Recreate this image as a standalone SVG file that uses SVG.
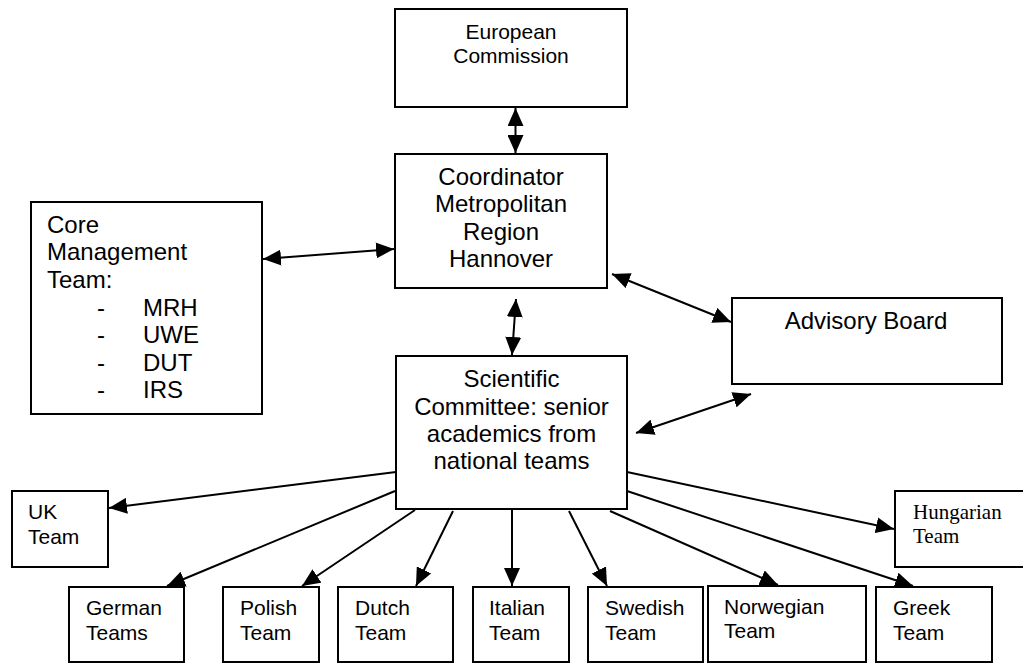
<svg xmlns="http://www.w3.org/2000/svg" width="1023" height="664" viewBox="0 0 1023 664">
<style>
.box{fill:#fff;stroke:#000;stroke-width:2}
.t{font-family:"Liberation Sans",Arial,sans-serif;fill:#000}
.c{text-anchor:middle}
.big{font-size:24px}
.mid{font-size:21px}
.serif{font-family:"Liberation Serif","Times New Roman",serif;font-size:21px;fill:#000}
.ln{stroke:#000;stroke-width:2;fill:none}
</style>
<defs>
<marker id="ah" viewBox="0 0 18 16" refX="18" refY="8" markerWidth="18" markerHeight="16" markerUnits="userSpaceOnUse" orient="auto-start-reverse">
<path d="M0,0 L18,8 L0,16 z" fill="#000" stroke="none"/>
</marker>
</defs>
<rect width="1023" height="664" fill="#fff"/>

<g id="ec">
<rect class="box" x="395" y="9" width="232" height="98"/>
<text class="t c mid" x="511" y="39">European</text>
<text class="t c mid" x="511" y="63">Commission</text>
</g>

<g id="coordinator">
<rect class="box" x="395" y="154" width="212" height="134"/>
<text class="t c big" x="501" y="185">Coordinator</text>
<text class="t c big" x="501" y="212">Metropolitan</text>
<text class="t c big" x="501" y="240">Region</text>
<text class="t c big" x="501" y="267">Hannover</text>
</g>

<g id="core">
<rect class="box" x="31" y="202" width="231" height="212"/>
<text class="t big" x="47" y="233">Core</text>
<text class="t big" x="47" y="260">Management</text>
<text class="t big" x="47" y="288">Team:</text>
<text class="t big" x="97" y="316">-</text><text class="t big" x="143" y="316">MRH</text>
<text class="t big" x="97" y="343">-</text><text class="t big" x="143" y="343">UWE</text>
<text class="t big" x="97" y="371">-</text><text class="t big" x="143" y="371">DUT</text>
<text class="t big" x="97" y="398">-</text><text class="t big" x="143" y="398">IRS</text>
</g>

<g id="advisory">
<rect class="box" x="732" y="298" width="270" height="86"/>
<text class="t c big" x="866" y="329">Advisory Board</text>
</g>

<g id="scientific">
<rect class="box" x="396" y="356" width="231" height="153"/>
<text class="t c big" x="511.5" y="387">Scientific</text>
<text class="t c big" x="511.5" y="415">Committee: senior</text>
<text class="t c big" x="511.5" y="442">academics from</text>
<text class="t c big" x="511.5" y="469">national teams</text>
</g>

<g id="uk">
<rect class="box" x="12" y="491" width="96" height="76"/>
<text class="t mid" x="28" y="519">UK</text>
<text class="t mid" x="28" y="544">Team</text>
</g>

<g id="hungarian">
<rect class="box" x="895" y="491" width="140" height="76"/>
<text class="serif" x="913" y="519">Hungarian</text>
<text class="serif" x="913" y="543">Team</text>
</g>

<g id="german">
<rect class="box" x="69" y="587" width="115" height="75"/>
<text class="t mid" x="86" y="615">German</text>
<text class="t mid" x="86" y="640">Teams</text>
</g>

<g id="polish">
<rect class="box" x="223" y="587" width="96" height="75"/>
<text class="t mid" x="240" y="615">Polish</text>
<text class="t mid" x="240" y="640">Team</text>
</g>

<g id="dutch">
<rect class="box" x="338" y="587" width="115" height="75"/>
<text class="t mid" x="355" y="615">Dutch</text>
<text class="t mid" x="355" y="640">Team</text>
</g>

<g id="italian">
<rect class="box" x="473" y="587" width="96" height="75"/>
<text class="t mid" x="489" y="615">Italian</text>
<text class="t mid" x="489" y="640">Team</text>
</g>

<g id="swedish">
<rect class="box" x="588" y="587" width="115" height="75"/>
<text class="t mid" x="605" y="615">Swedish</text>
<text class="t mid" x="605" y="640">Team</text>
</g>

<g id="norwegian">
<rect class="box" x="708" y="586" width="158" height="76"/>
<text class="t mid" x="724" y="614">Norwegian</text>
<text class="t mid" x="724" y="638">Team</text>
</g>

<g id="greek">
<rect class="box" x="876" y="587" width="116" height="75"/>
<text class="t mid" x="893" y="615">Greek</text>
<text class="t mid" x="893" y="640">Team</text>
</g>

<g id="connectors">
<line class="ln" x1="515.5" y1="108" x2="515.5" y2="153" marker-start="url(#ah)" marker-end="url(#ah)"/>
<line class="ln" x1="263" y1="259" x2="394" y2="249" marker-start="url(#ah)" marker-end="url(#ah)"/>
<line class="ln" x1="516" y1="299" x2="512" y2="355" marker-start="url(#ah)" marker-end="url(#ah)"/>
<line class="ln" x1="612" y1="274" x2="731" y2="322" marker-start="url(#ah)" marker-end="url(#ah)"/>
<line class="ln" x1="636" y1="433" x2="751" y2="394" marker-start="url(#ah)" marker-end="url(#ah)"/>
<line class="ln" x1="396" y1="472" x2="109" y2="508" marker-end="url(#ah)"/>
<line class="ln" x1="395" y1="491" x2="167" y2="586" marker-end="url(#ah)"/>
<line class="ln" x1="415" y1="510" x2="302" y2="586" marker-end="url(#ah)"/>
<line class="ln" x1="453" y1="511" x2="416" y2="586" marker-end="url(#ah)"/>
<line class="ln" x1="512" y1="510" x2="512" y2="586" marker-end="url(#ah)"/>
<line class="ln" x1="569" y1="511" x2="607" y2="586" marker-end="url(#ah)"/>
<line class="ln" x1="610" y1="511" x2="778" y2="585" marker-end="url(#ah)"/>
<line class="ln" x1="627" y1="491" x2="913" y2="586" marker-end="url(#ah)"/>
<line class="ln" x1="627" y1="472" x2="894" y2="529" marker-end="url(#ah)"/>
</g>
</svg>
